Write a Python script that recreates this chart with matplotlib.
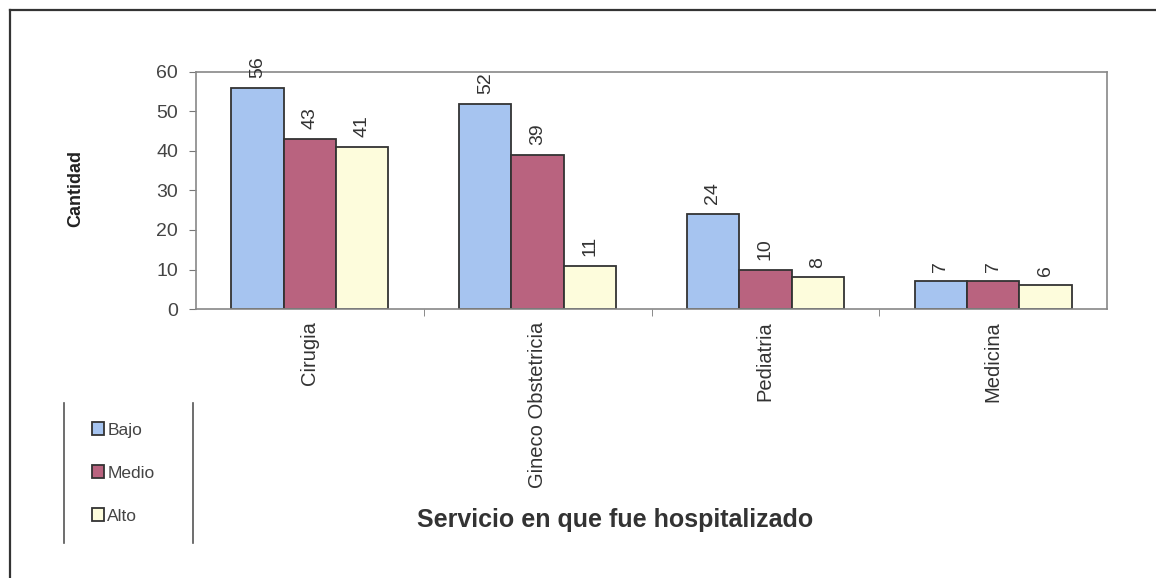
import matplotlib

matplotlib.use("Agg")
import matplotlib.pyplot as plt
import numpy as np
from matplotlib.patches import Patch
from matplotlib.lines import Line2D

plt.rcParams["font.family"] = ["Liberation Sans", "DejaVu Sans"]

# data
servicios = ["Cirugia", "Gineco Obstetricia", "Pediatria", "Medicina"]
niveles = ["Bajo", "Medio", "Alto"]
bajo = [56, 52, 24, 7]
medio = [43, 39, 10, 7]
alto = [41, 11, 8, 6]
colores = ["#a6c4f0", "#b9637f", "#fdfcdc"]

W, H = 1156, 578
fig = plt.figure(figsize=(W / 100, H / 100), dpi=100)
ax = fig.add_axes([196 / W, 1 - 309 / H, (1107 - 196) / W, (309 - 72) / H])

x = np.arange(len(servicios))
w = 0.23
for i, (vals, col) in enumerate(zip([bajo, medio, alto], colores)):
    bars = ax.bar(x + (i - 1) * w, vals, w, color=col, edgecolor="#333333",
                  linewidth=1.3, label=niveles[i])
    for b, v in zip(bars, vals):
        ax.annotate(str(v), (b.get_x() + b.get_width() / 2, v), xytext=(0, 7),
                    textcoords="offset points", ha="center", va="bottom",
                    rotation=90, fontsize=14, color="#333333",
                    annotation_clip=False)

ax.set_xlim(-0.5, len(servicios) - 0.5)
ax.set_ylim(0, 60)
ax.set_yticks(range(0, 61, 10))
ax.set_xticks(x)
ax.set_xticklabels(servicios, rotation=90, fontsize=14.5, color="#333333")
ax.set_xticks(np.arange(0.5, len(servicios) - 0.5, 1), minor=True)
ax.tick_params(axis="x", which="major", length=0, pad=9)
ax.tick_params(axis="x", which="minor", length=5, color="#777777", direction="out")
ax.tick_params(axis="y", labelsize=14, labelcolor="#444444", color="#777777",
               length=5, pad=8)
for s in ax.spines.values():
    s.set_color("#888888")
    s.set_linewidth(1.2)

ax.set_ylabel("Cantidad", fontsize=13, fontweight="bold", color="#222222")
ax.yaxis.set_label_coords((84 - 196) / 911, 0.51)
fig.text(615 / W, 1 - 520 / H, "Servicio en que fue hospitalizado",
         fontsize=18, fontweight="bold", color="#333333", ha="center", va="center")

# legend on the lower left, framed by two vertical lines
handles = [Patch(facecolor=c, edgecolor="#333333", linewidth=1.3) for c in colores]
fig.legend(handles, niveles, loc="center left",
           bbox_to_anchor=(76 / W, 1 - 473 / H), frameon=False,
           fontsize=12.5, labelspacing=1.6, handlelength=0.7, handleheight=0.7,
           handletextpad=0.2, labelcolor="#444444")
for xl in (64, 193):
    fig.add_artist(Line2D([xl / W, xl / W], [1 - 403 / H, 1 - 543 / H],
                          color="#555555", linewidth=1.2))

# scan frame: only the top and left edges are visible
fig.add_artist(Line2D([10 / W, 1.0], [1 - 10 / H, 1 - 10 / H],
                      color="#333333", linewidth=1.6))
fig.add_artist(Line2D([10 / W, 10 / W], [0.0, 1 - 10 / H],
                      color="#333333", linewidth=1.6))

fig.savefig("out.png", dpi=100)
plt.close("all")
